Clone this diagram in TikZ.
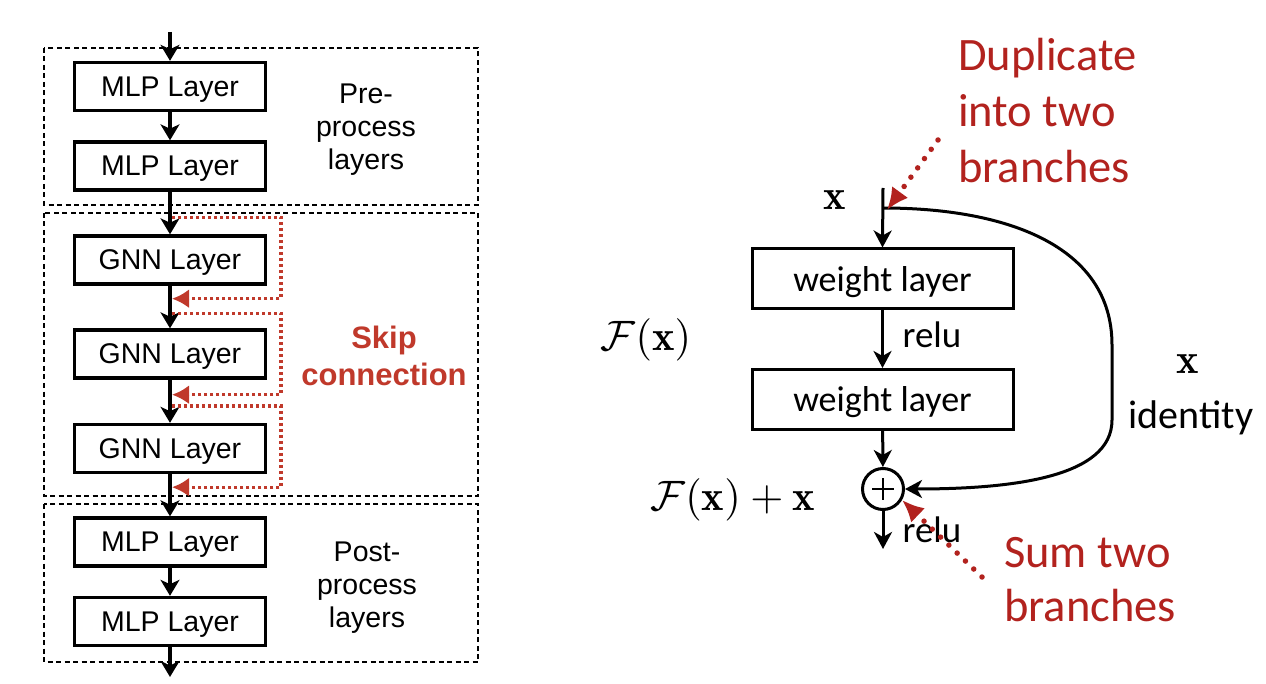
\documentclass[tikz,border=0pt]{standalone}
\usepackage{graphicx}
\usepackage{fontspec}
\newfontfamily\arialf{Liberation Sans}
\newfontfamily\calf{Carlito}
\usetikzlibrary{arrows.meta,calc}
\definecolor{skipred}{RGB}{192,57,43}
\definecolor{annred}{RGB}{178,34,30}
\newcommand{\bigmath}[1]{\scalebox{4.25}{$#1$}}
\begin{document}
\begin{tikzpicture}[x=1pt,y=-1pt,
  lay/.style={draw,line width=3.4pt,minimum width=191pt,minimum height=48pt,inner sep=0pt,text depth=0pt,font=\arialf\fontsize{28.5}{32}\selectfont},
  grp/.style={draw,line width=1.5pt,dash pattern=on 5pt off 3.5pt},
  grplbl/.style={align=center,font=\arialf\fontsize{28.5}{33}\selectfont},
  barr/.style={line width=3.4pt,-{Stealth[length=16pt,width=19pt,inset=4.5pt]}},
  skip/.style={draw=skipred,line width=3.4pt,dash pattern=on 3pt off 3pt,-{Latex[length=17pt,width=19pt]}},
  wl/.style={draw,line width=3pt,minimum width=261pt,minimum height=60pt,inner sep=0pt,text depth=0pt,font=\calf\fontsize{36}{43}\selectfont},
  rarr/.style={line width=3pt,-{Stealth[length=17pt,width=18pt,inset=5pt]}},
  clbl/.style={font=\calf\fontsize{37}{43}\selectfont},
  mlbl/.style={inner sep=0pt},
  annlbl/.style={anchor=west,align=left,inner sep=0pt,text=annred},
  ann/.style={draw=annred,line width=5.5pt,line cap=round,dash pattern=on 0pt off 11.5pt,-{Latex[length=22pt,width=20pt]}}
]
\fill[white] (0,0) rectangle (1266,684);
\useasboundingbox (0,0) rectangle (1266,684);

% ---------- left: group frames ----------
\draw[grp] (44,48) rectangle (478,205);
\draw[grp] (44,213) rectangle (478,496);
\draw[grp] (44,504) rectangle (478,662);

% ---------- left: layers ----------
\node[lay] (mlp1) at (170,86.5) {MLP Layer};
\node[lay] (mlp2) at (170,166) {MLP Layer};
\node[lay] (gnn1) at (170,260) {GNN Layer};
\node[lay] (gnn2) at (170,354) {GNN Layer};
\node[lay] (gnn3) at (170,448.5) {GNN Layer};
\node[lay] (mlp3) at (170,542) {MLP Layer};
\node[lay] (mlp4) at (170,621.5) {MLP Layer};

\coordinate (lin) at (170,32);
\coordinate (lout) at (170,677);

\draw[barr] (lin) -- (mlp1.north);
\draw[barr] (mlp1) -- (mlp2);
\draw[barr] (mlp2) -- (gnn1);
\draw[barr] (gnn1) -- (gnn2);
\draw[barr] (gnn2) -- (gnn3);
\draw[barr] (gnn3) -- (mlp3);
\draw[barr] (mlp3) -- (mlp4);
\draw[barr] (mlp4.south) -- (lout);

% skip connections
\coordinate (s1a) at ($(gnn1.north)+(2,-17)$);
\coordinate (s1b) at ($(gnn1.south)+(2,13)$);
\coordinate (s2a) at ($(gnn2.north)+(2,-15)$);
\coordinate (s2b) at ($(gnn2.south)+(2,15)$);
\coordinate (s3a) at ($(gnn3.north)+(2,-17)$);
\coordinate (s3b) at ($(gnn3.south)+(2,13)$);
\draw[skip] (s1a) -- ($(s1a)+(109,0)$) |- (s1b);
\draw[skip] (s2a) -- ($(s2a)+(109,0)$) |- (s2b);
\draw[skip] (s3a) -- ($(s3a)+(109,0)$) |- (s3b);

\node[grplbl] (prelbl) at (366,130) {Pre-\\process\\layers};
\node[grplbl] (postlbl) at (367,587.5) {Post-\\process\\layers};
\node[align=center,text=skipred,font=\arialf\bfseries\fontsize{31}{37}\selectfont] (skiplbl) at (384,356) {Skip\\connection};

% ---------- right: residual block ----------
\node[wl] (w1) at (882.5,279) {weight layer};
\node[wl] (w2) at (882.5,399.5) {weight layer};
\node[draw,circle,line width=3pt,minimum size=41pt,inner sep=0pt] (sum) at (883,489) {};
\draw[line width=2.5pt] ($(sum.center)+(-11,0)$) -- ($(sum.center)+(11,0)$);
\draw[line width=2.5pt] ($(sum.center)+(0,-11)$) -- ($(sum.center)+(0,11)$);

\coordinate (rin) at (883,188);
\coordinate (split) at (883,208);
\coordinate (rout) at (883,549);

\draw[rarr] (rin) -- (w1.north);
\draw[rarr] (w1) -- (w2);
\draw[rarr] (w2) -- (sum);
\draw[rarr] (sum) -- (rout);
\draw[rarr] (split) .. controls (1005,208) and (1112,245) .. (1112,345) -- (1112,420)
  .. controls (1112,478) and (1010,489) .. (sum.east);

\node[clbl] (relu1) at (932,335) {relu};
\node[clbl] (relu2) at (932,530) {relu};
\node[mlbl] (xin) at (835,200) {\bigmath{\mathbf{x}}};
\node[mlbl] (fx) at (646,340) {\bigmath{\mathcal{F}(\mathbf{x})}};
\node[mlbl] (fxx) at (733,500) {\bigmath{\mathcal{F}(\mathbf{x})+\mathbf{x}}};
\node[mlbl] (xid) at (1188,364) {\bigmath{\mathbf{x}}};
\node[clbl,font=\calf\fontsize{40}{43}\selectfont] (idlbl) at (1191,418) {identity};

% ---------- annotations ----------
\node[annlbl,font=\calf\fontsize{46.5}{56}\selectfont] (dup) at (958,111) {Duplicate\\into two\\branches};
\node[annlbl,font=\calf\fontsize{46.5}{54}\selectfont] (sumlbl) at (1004,580) {Sum two\\branches};
\coordinate (dupfrom) at (938,140);
\coordinate (sumfrom) at (982,577);
\draw[ann] (dupfrom) -- ($(split)+(4,2)$);
\draw[ann] (sumfrom) -- (sum.-30);
\end{tikzpicture}
\end{document}
